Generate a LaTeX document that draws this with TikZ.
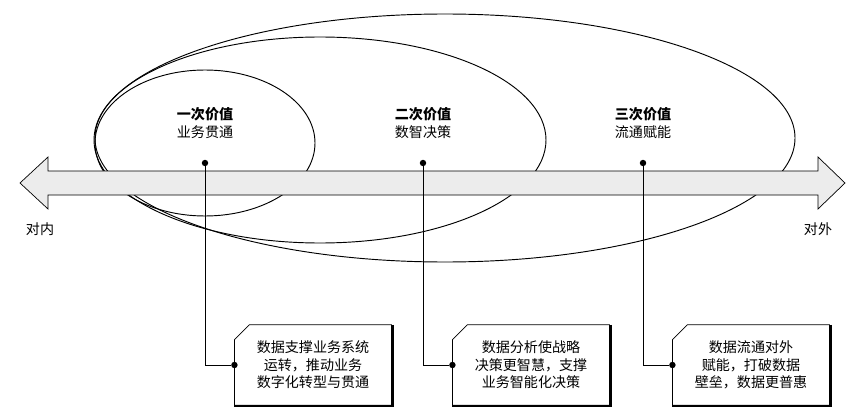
\documentclass[tikz,border=0pt]{standalone}
\usepackage{fontspec}
\setmainfont{Noto Sans CJK SC}
\usetikzlibrary{positioning, calc}
\definecolor{shaftgray}{RGB}{236, 236, 236}
\tikzstyle{valuelabel} = [align=center, font=\fontsize{12}{15}\selectfont]
\tikzstyle{notebox} = [minimum width=4.7cm, minimum height=2.4cm, align=center, font=\fontsize{12}{15}\selectfont]
\tikzstyle{dot} = [circle, fill=black, inner sep=0pt, minimum size=5.5pt]
\tikzstyle{link} = [semithick]
\newcommand{\chamfer}[1]{%
  \draw[line width=1.6pt] ($(#1.north east)+(1.2,0)$) -- ($(#1.south east)+(1.2,1.2)$) -- ($(#1.south west)+(0,1.2)$);
  \draw[semithick] ($(#1.north west)+(0,15)$) -- ($(#1.north west)+(15,0)$) -- (#1.north east) -- (#1.south east) -- (#1.south west) -- cycle;}

\begin{document}
\begin{tikzpicture}[x=0.3mm, y=-0.3mm]
\useasboundingbox (0,0) rectangle (866,414);

% Value ellipses
\draw[thick] (445,138) ellipse (350 and 124);
\draw[thick] (320,140) ellipse (226 and 103);
\draw[thick] (205,143) ellipse (110 and 73);

% Double arrow
\draw[semithick, fill=shaftgray] (20,183) -- (48,157) -- (48,171) -- (818,171) -- (818,157) -- (845,183)
  -- (818,209) -- (818,195) -- (48,195) -- (48,209) -- cycle;

% Labels
\node (v1) [valuelabel] at (205,123) {\textbf{一次价值}\\业务贯通};
\node (v2) [valuelabel] at (423,123) {\textbf{二次价值}\\数智决策};
\node (v3) [valuelabel] at (643,123) {\textbf{三次价值}\\流通赋能};
\node (inner) [font=\fontsize{12}{15}\selectfont] at (40,229) {对内};
\node (outer) [font=\fontsize{12}{15}\selectfont] at (818,229) {对外};

% Dots on the arrow
\node (d1) [dot] at (205,163) {};
\node (d2) [dot] at (423,163) {};
\node (d3) [dot] at (643,163) {};

% Note boxes
\node (n1) [notebox] at (313,365) {数据支撑业务系统\\运转，推动业务\\数字化转型与贯通};
\node (n2) [notebox] at (531,365) {数据分析使战略\\决策更智慧，支撑\\业务智能化决策};
\node (n3) [notebox] at (751,365) {数据流通对外\\赋能，打破数据\\壁垒，数据更普惠};
\chamfer{n1}
\chamfer{n2}
\chamfer{n3}

% Connectors
\node (e1) [dot] at (n1.west) {};
\node (e2) [dot] at (n2.west) {};
\node (e3) [dot] at (n3.west) {};
\draw [link] (d1) |- (e1);
\draw [link] (d2) |- (e2);
\draw [link] (d3) |- (e3);

\end{tikzpicture}
\end{document}
